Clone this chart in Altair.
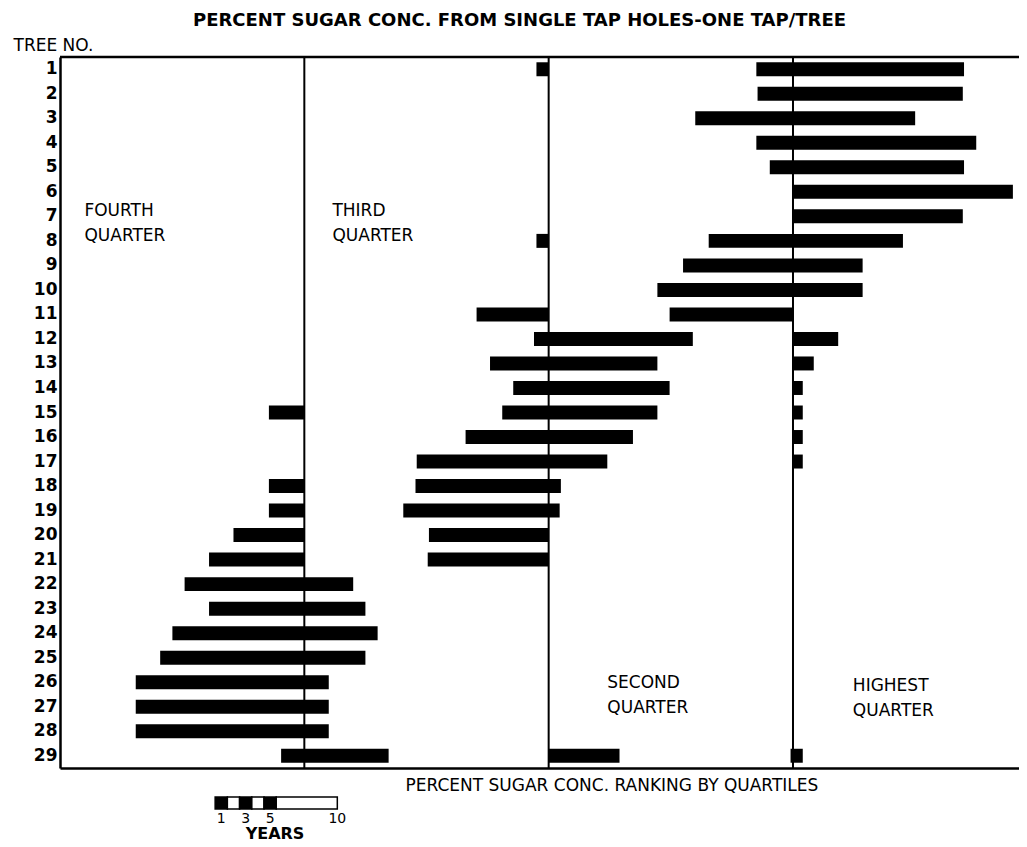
import altair as alt
import pandas as pd

# ---------------- data (x in years, quartile boundaries at 20 / 40 / 60) ----------------
trees = list(range(1, 30))

seg_tree = [1, 1, 2, 3, 4, 5, 6, 7, 8, 8, 9, 10, 11, 11, 12, 12, 13, 13, 14, 14,
            15, 15, 15, 16, 16, 17, 17, 18, 18, 19, 19, 20, 20, 21, 21,
            22, 23, 24, 25, 26, 27, 28, 29, 29, 29]
seg_start = [39.0, 57.0, 57.1, 52.0, 57.0, 58.1, 60.0, 60.0, 39.0, 53.1, 51.0, 48.9,
             34.1, 49.9, 38.8, 60.0, 35.2, 60.0, 37.1, 60.0,
             17.1, 36.2, 60.0, 33.2, 60.0, 29.2, 60.0, 17.1, 29.1, 17.1, 28.1,
             14.2, 30.2, 12.2, 30.1,
             10.2, 12.2, 9.2, 8.2, 6.2, 6.2, 6.2, 18.1, 40.0, 59.8]
seg_end = [40.0, 74.0, 73.9, 70.0, 75.0, 74.0, 78.0, 73.9, 40.0, 69.0, 65.7, 65.7,
           40.0, 60.0, 51.8, 63.7, 48.9, 61.7, 49.9, 60.8,
           20.0, 48.9, 60.8, 46.9, 60.8, 44.8, 60.8, 20.0, 41.0, 20.0, 40.9,
           20.0, 40.0, 20.0, 40.0,
           24.0, 25.0, 26.0, 25.0, 22.0, 22.0, 22.0, 26.9, 45.8, 60.8]

quartile_lines = [20, 40, 60]

quarter_labels = [["FOURTH", "QUARTER"], ["THIRD", "QUARTER"],
                  ["SECOND", "QUARTER"], ["HIGHEST", "QUARTER"]]
quarter_label_x = [2.0, 22.3, 44.8, 64.9]

# years scale bar (legend)
scale_origin = 12.7
scale_seg_start = [0, 1, 2, 3, 4, 5]
scale_seg_end = [1, 2, 3, 4, 5, 10]
scale_seg_fill = ["black", "white", "black", "white", "black", "white"]
scale_tick_pos = [0.5, 2.5, 4.5, 10]
scale_tick_text = ["1", "3", "5", "10"]

TITLE = "PERCENT SUGAR CONC. FROM SINGLE TAP HOLES-ONE TAP/TREE"
XTITLE = "PERCENT SUGAR CONC. RANKING BY QUARTILES"
FONT = "DejaVu Sans"

W, H = 959, 711

seg_df = pd.DataFrame({"tree": seg_tree, "start": seg_start, "end": seg_end})
q_df = pd.DataFrame({"start": quartile_lines})
sb_df = pd.DataFrame({"start": [scale_origin + s for s in scale_seg_start],
                      "end": [scale_origin + e for e in scale_seg_end],
                      "fill": scale_seg_fill})
st_df = pd.DataFrame({"start": [scale_origin + p for p in scale_tick_pos],
                      "label": scale_tick_text})

xscale = alt.Scale(domain=[0, 78.5], nice=False, zero=False)


def X(field="start:Q"):
    return alt.X(field, scale=xscale,
                 axis=alt.Axis(title=XTITLE, labels=False, ticks=False, grid=False,
                               domainColor="black", domainWidth=2.5,
                               titleFont=FONT, titleFontSize=17, titleFontWeight="normal",
                               titleColor="black", titleAlign="left", titleBaseline="middle",
                               titleX=345, titleY=17))


bars = alt.Chart(seg_df).mark_bar(color="black").encode(
    x=X(),
    x2="end:Q",
    y=alt.Y("tree:O",
            scale=alt.Scale(domain=trees, paddingInner=0.43, paddingOuter=0.215),
            axis=alt.Axis(title="TREE NO.", ticks=False, grid=False, domainColor="black",
                          domainWidth=2.5, labelFont=FONT, labelFontSize=17,
                          labelFontWeight="bold", labelColor="black", labelPadding=3,
                          titleFont=FONT, titleFontSize=17, titleFontWeight="normal",
                          titleColor="black", titleAngle=0, titleAlign="left",
                          titleBaseline="middle", titleX=-47, titleY=-12)),
)

rules = alt.Chart(q_df).mark_rule(color="black", strokeWidth=2).encode(x=X())

top_border = alt.Chart(pd.DataFrame({"start": [0]})).mark_rule(
    color="black", strokeWidth=2.5).encode(x=alt.value(0), x2=alt.value(W), y=alt.value(0))

layers = [bars, rules, top_border]

tops = [146, 146, 618, 621]
for lines, xpos, ytop in zip(quarter_labels, quarter_label_x, tops):
    layers.append(
        alt.Chart(pd.DataFrame({"start": [xpos]})).mark_text(
            text=lines, lineHeight=25, align="left", baseline="top",
            font=FONT, fontSize=17, color="black").encode(x=X(), y=alt.value(ytop))
    )

scale_bar = alt.Chart(sb_df).mark_rect(stroke="black", strokeWidth=1.5).encode(
    x=X(), x2="end:Q", y=alt.value(740), y2=alt.value(752),
    fill=alt.Fill("fill:N", scale=None))
scale_ticks = alt.Chart(st_df).mark_text(
    font=FONT, fontSize=14, color="black", baseline="middle").encode(
    x=X(), y=alt.value(762), text="label:N")
years = alt.Chart(pd.DataFrame({"start": [scale_origin + 4.9]})).mark_text(
    text="YEARS", font=FONT, fontSize=16, fontWeight="bold", color="black",
    baseline="middle").encode(x=X(), y=alt.value(777))

layers += [scale_bar, scale_ticks, years]

chart = alt.layer(*layers).properties(
    width=W, height=H,
    title=alt.TitleParams(TITLE, font=FONT, fontSize=18, fontWeight="bold", color="black",
                          anchor="middle", offset=6, dx=-20),
    autosize=alt.AutoSizeParams(type="none"),
    padding={"left": 52, "top": 49, "right": 0, "bottom": 78},
).configure_view(strokeWidth=0).configure(background="white")

chart.save("out.html", embed_options={"renderer": "svg", "actions": False})
